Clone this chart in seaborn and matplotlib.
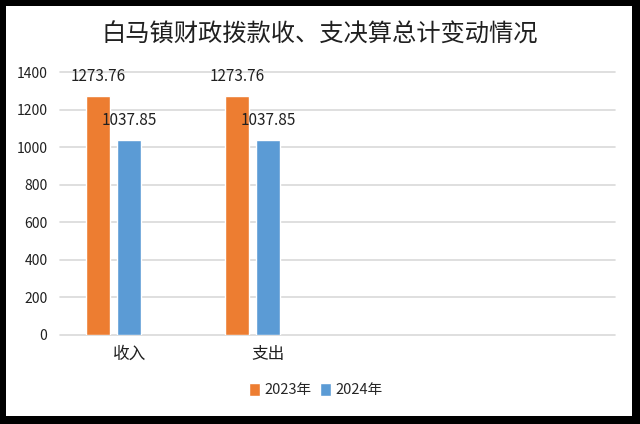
import pandas as pd
import matplotlib.pyplot as plt
import seaborn as sns
from matplotlib.patches import Rectangle, Patch

# 数据
categories = ['收入', '支出']
years = ['2023年', '2024年']
values_2023 = [1273.76, 1273.76]
values_2024 = [1037.85, 1037.85]

df = pd.DataFrame({
    'cat': categories * 2,
    'year': [years[0]] * 2 + [years[1]] * 2,
    'value': values_2023 + values_2024,
})

sns.set_theme(style='white')
plt.rcParams['font.family'] = ['Noto Sans CJK SC', 'DejaVu Sans']

colors = {'2023年': '#ED7D31', '2024年': '#5B9BD5', ' ': '#FFFFFF'}

fig = plt.figure(figsize=(6.4, 4.24), dpi=100, facecolor='black')
# 白色底板（外框为黑色）
fig.patches.append(Rectangle((6 / 640, 8 / 424), 626 / 640, 410 / 424,
                             transform=fig.transFigure, facecolor='white',
                             edgecolor='none', zorder=-5))
ax = fig.add_axes([60 / 640, 1 - 335 / 424, 555 / 640, 263 / 424])
ax.set_facecolor('none')

sns.barplot(data=df, x='cat', y='value', hue='year', order=categories,
            hue_order=years + [' '], palette=colors, width=0.67, gap=0.22,
            saturation=1, ax=ax, legend=False)

for cont in ax.containers:
    ax.bar_label(cont, fmt='%.2f', padding=8, fontsize=11, color='#202020')

ax.set_xlim(-0.5, 3.5)
ax.set_ylim(0, 1400)
ax.set_yticks(range(0, 1401, 200))
ax.yaxis.grid(True, color='#D9D9D9', linewidth=1.2)
for gl in ax.get_ygridlines():
    gl.set_clip_on(False)
ax.set_axisbelow(True)
for s in ax.spines.values():
    s.set_visible(False)
ax.tick_params(axis='y', labelsize=10, colors='#202020', length=0, pad=9)
ax.tick_params(axis='x', labelsize=12, colors='#202020', length=0, pad=8)
ax.set_xlabel('')
ax.set_ylabel('')

fig.text(0.5, 1 - 35 / 424, '白马镇财政拨款收、支决算总计变动情况',
         ha='center', va='center', fontsize=17.5, color='#202020')

handles = [Patch(facecolor=colors[y], label=y) for y in years]
fig.legend(handles=handles, loc='center', bbox_to_anchor=(316 / 640, 1 - 390 / 424),
           ncol=2, frameon=False, fontsize=10.5, handlelength=0.75, handleheight=1.0,
           handletextpad=0.3, columnspacing=0.6)

fig.savefig('out.png', dpi=100, facecolor='black')
